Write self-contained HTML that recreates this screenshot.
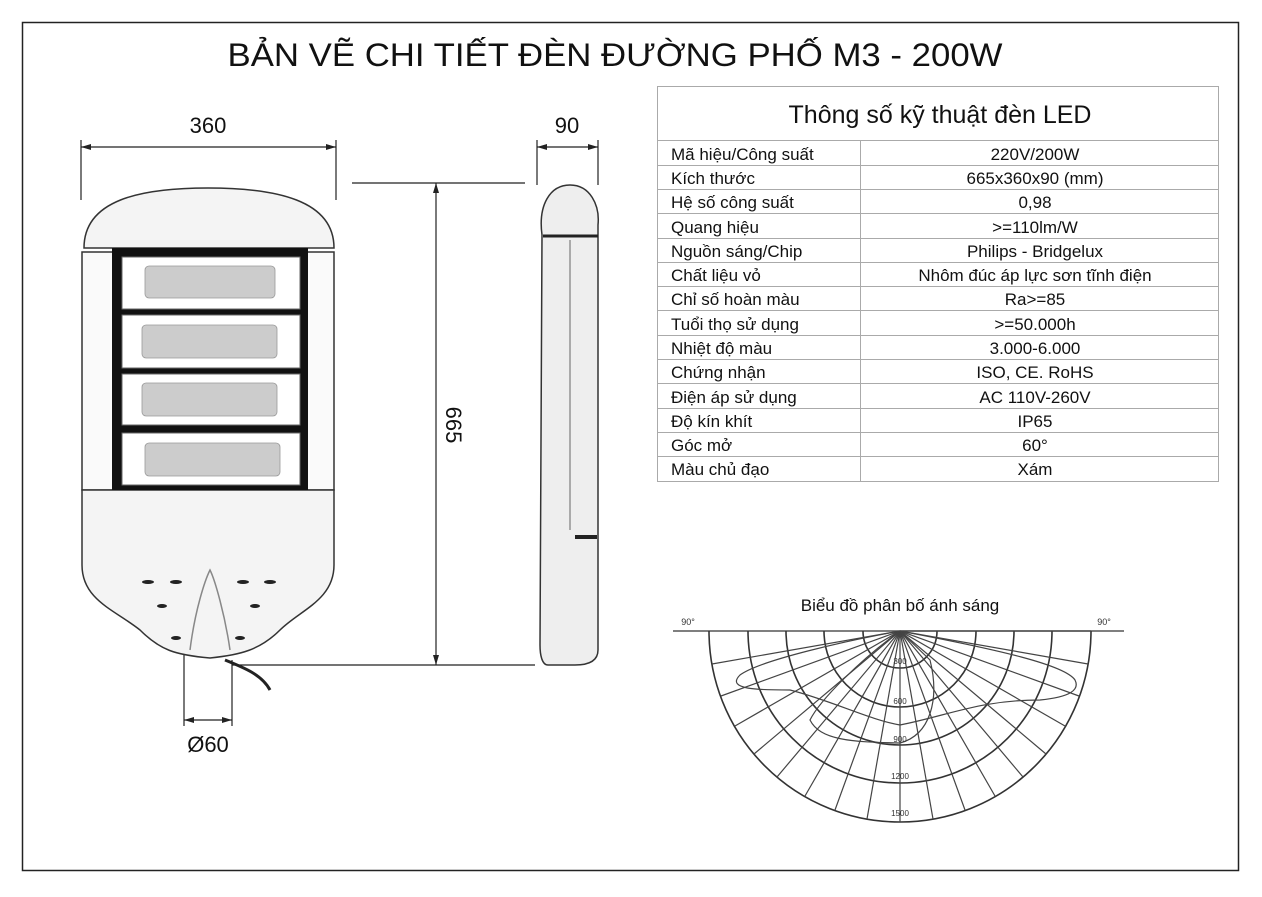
<!DOCTYPE html>
<html><head><meta charset="utf-8"><style>
body{margin:0;background:#fff;}
svg text{font-family:"Liberation Sans",sans-serif;}
</style></head><body>
<svg width="1262" height="892" viewBox="0 0 1262 892" xmlns="http://www.w3.org/2000/svg">
<rect x="0" y="0" width="1262" height="892" fill="#fff"/>
<rect x="22.5" y="22.5" width="1216" height="848" fill="none" stroke="#222" stroke-width="1.5"/>
<text x="615" y="66" font-size="32" text-anchor="middle" fill="#111" textLength="775" lengthAdjust="spacingAndGlyphs">BẢN VẼ CHI TIẾT ĐÈN ĐƯỜNG PHỐ M3 - 200W</text>

<!-- dimensions front -->
<g stroke="#222" stroke-width="1.2" fill="none">
<line x1="81" y1="140" x2="81" y2="200"/><line x1="336" y1="140" x2="336" y2="200"/>
<line x1="81" y1="147" x2="336" y2="147"/>
<line x1="537" y1="140" x2="537" y2="185"/><line x1="598" y1="140" x2="598" y2="185"/>
<line x1="537" y1="147" x2="598" y2="147"/>
<line x1="352" y1="183" x2="525" y2="183"/>
<line x1="232" y1="665" x2="535" y2="665"/>
<line x1="436" y1="183" x2="436" y2="665"/>
<line x1="184" y1="650" x2="184" y2="726"/><line x1="232" y1="660" x2="232" y2="726"/>
<line x1="184" y1="720" x2="232" y2="720"/>
</g>
<g fill="#222">
<polygon points="81,147 91,144 91,150"/><polygon points="336,147 326,144 326,150"/>
<polygon points="537,147 547,144 547,150"/><polygon points="598,147 588,144 588,150"/>
<polygon points="436,183 433,193 439,193"/><polygon points="436,665 433,655 439,655"/>
<polygon points="184,720 194,717 194,723"/><polygon points="232,720 222,717 222,723"/>
</g>
<text x="208" y="133" font-size="22" text-anchor="middle" fill="#111">360</text>
<text x="567" y="133" font-size="22" text-anchor="middle" fill="#111">90</text>
<text x="208" y="752" font-size="22" text-anchor="middle" fill="#111">Ø60</text>
<text x="0" y="0" font-size="22" text-anchor="middle" fill="#111" transform="translate(446,425) rotate(90)">665</text>

<!-- lamp front -->
<g stroke="#333" stroke-width="1.5" fill="#f4f4f4">
<path d="M84,248 C84,200 140,188 208,188 C276,188 334,200 334,248 Z"/>
<path d="M82,252 L334,252 L334,490 L82,490 Z" fill="#fafafa"/>
<path d="M82,490 L334,490 L334,565 C334,600 300,610 280,630 C260,650 240,655 210,658 C175,655 160,650 140,630 C115,610 82,600 82,565 Z"/>
</g>
<rect x="112" y="248" width="196" height="242" fill="#111"/>
<g fill="#fff" stroke="#666" stroke-width="1">
<rect x="122" y="257" width="178" height="52"/>
<rect x="122" y="315" width="178" height="53"/>
<rect x="122" y="374" width="178" height="51"/>
<rect x="122" y="433" width="178" height="52"/>
</g>
<g fill="#ccc" stroke="#999" stroke-width="0.8">
<rect x="145" y="266" width="130" height="32" rx="4"/>
<rect x="142" y="325" width="135" height="33" rx="4"/>
<rect x="142" y="383" width="135" height="33" rx="4"/>
<rect x="145" y="443" width="135" height="33" rx="4"/>
</g>
<g fill="#222">
<ellipse cx="148" cy="582" rx="6" ry="2"/><ellipse cx="176" cy="582" rx="6" ry="2"/>
<ellipse cx="243" cy="582" rx="6" ry="2"/><ellipse cx="270" cy="582" rx="6" ry="2"/>
<ellipse cx="162" cy="606" rx="5" ry="2"/><ellipse cx="255" cy="606" rx="5" ry="2"/>
<ellipse cx="176" cy="638" rx="5" ry="2"/><ellipse cx="240" cy="638" rx="5" ry="2"/>
</g>
<path d="M190,650 C195,610 205,580 210,570 C215,580 225,615 230,650" fill="none" stroke="#888" stroke-width="1.5"/>
<path d="M225,660 C245,668 262,675 270,690" fill="none" stroke="#222" stroke-width="3"/>

<!-- side view -->
<g stroke="#333" stroke-width="1.5" fill="#eee">
<path d="M542,235 C538,205 550,185 570,185 C590,185 600,205 598,225 L598,650 C598,660 590,665 575,665 L548,665 C542,665 540,655 540,645 Z"/>
</g>
<line x1="543" y1="236" x2="598" y2="236" stroke="#222" stroke-width="3"/>
<line x1="570" y1="240" x2="570" y2="530" stroke="#666" stroke-width="1"/>
<rect x="575" y="535" width="22" height="4" fill="#222"/>

<!-- table -->
<g stroke="#aaa" stroke-width="1" fill="none">
<rect x="657.5" y="86.5" width="561" height="395"/>
<line x1="657" y1="140.5" x2="1219" y2="140.5"/>
<line x1="860.5" y1="141" x2="860.5" y2="481"/>
<line x1="657" y1="165.5" x2="1219" y2="165.5"/>
<line x1="657" y1="189.5" x2="1219" y2="189.5"/>
<line x1="657" y1="213.5" x2="1219" y2="213.5"/>
<line x1="657" y1="238.5" x2="1219" y2="238.5"/>
<line x1="657" y1="262.5" x2="1219" y2="262.5"/>
<line x1="657" y1="286.5" x2="1219" y2="286.5"/>
<line x1="657" y1="310.5" x2="1219" y2="310.5"/>
<line x1="657" y1="335.5" x2="1219" y2="335.5"/>
<line x1="657" y1="359.5" x2="1219" y2="359.5"/>
<line x1="657" y1="383.5" x2="1219" y2="383.5"/>
<line x1="657" y1="408.5" x2="1219" y2="408.5"/>
<line x1="657" y1="432.5" x2="1219" y2="432.5"/>
<line x1="657" y1="456.5" x2="1219" y2="456.5"/>
</g>
<text x="940" y="123" font-size="25" text-anchor="middle" fill="#111">Thông số kỹ thuật đèn LED</text>
<g font-size="17" fill="#111">
<text x="671" y="160">Mã hiệu/Công suất</text>
<text x="671" y="184">Kích thước</text>
<text x="671" y="208">Hệ số công suất</text>
<text x="671" y="233">Quang hiệu</text>
<text x="671" y="257">Nguồn sáng/Chip</text>
<text x="671" y="281">Chất liệu vỏ</text>
<text x="671" y="305">Chỉ số hoàn màu</text>
<text x="671" y="330">Tuổi thọ sử dụng</text>
<text x="671" y="354">Nhiệt độ màu</text>
<text x="671" y="378">Chứng nhận</text>
<text x="671" y="403">Điện áp sử dụng</text>
<text x="671" y="427">Độ kín khít</text>
<text x="671" y="451">Góc mở</text>
<text x="671" y="475">Màu chủ đạo</text>
</g>
<g font-size="17" fill="#111" text-anchor="middle">
<text x="1035" y="160">220V/200W</text>
<text x="1035" y="184">665x360x90 (mm)</text>
<text x="1035" y="208">0,98</text>
<text x="1035" y="233">&gt;=110lm/W</text>
<text x="1035" y="257">Philips - Bridgelux</text>
<text x="1035" y="281">Nhôm đúc áp lực sơn tĩnh điện</text>
<text x="1035" y="305">Ra&gt;=85</text>
<text x="1035" y="330">&gt;=50.000h</text>
<text x="1035" y="354">3.000-6.000</text>
<text x="1035" y="378">ISO, CE. RoHS</text>
<text x="1035" y="403">AC 110V-260V</text>
<text x="1035" y="427">IP65</text>
<text x="1035" y="451">60°</text>
<text x="1035" y="475">Xám</text>
</g>

<!-- polar -->
<text x="900" y="611" font-size="17" text-anchor="middle" fill="#111">Biểu đồ phân bố ánh sáng</text>
<text x="688" y="625" font-size="9" text-anchor="middle" fill="#333">90°</text>
<text x="1104" y="625" font-size="9" text-anchor="middle" fill="#333">90°</text>
<line x1="673" y1="631" x2="1124" y2="631" stroke="#555" stroke-width="1.5"/>
<g fill="none" stroke="#333" stroke-width="1.6">
<path d="M709,631 A191,191 0 0 0 1091,631"/>
<path d="M748,631 A152,152 0 0 0 1052,631"/>
<path d="M786,631 A114,114 0 0 0 1014,631"/>
<path d="M824,631 A76,76 0 0 0 976,631"/>
<path d="M863,631 A37,37 0 0 0 937,631"/>
</g>
<g stroke="#444" stroke-width="1.2" id="spokes">
<line x1="900" y1="631" x2="1091" y2="631"/>
<line x1="900" y1="631" x2="1088" y2="664"/>
<line x1="900" y1="631" x2="1079" y2="696"/>
<line x1="900" y1="631" x2="1065" y2="726"/>
<line x1="900" y1="631" x2="1046" y2="754"/>
<line x1="900" y1="631" x2="1023" y2="777"/>
<line x1="900" y1="631" x2="995" y2="796"/>
<line x1="900" y1="631" x2="965" y2="810"/>
<line x1="900" y1="631" x2="933" y2="819"/>
<line x1="900" y1="631" x2="900" y2="822"/>
<line x1="900" y1="631" x2="867" y2="819"/>
<line x1="900" y1="631" x2="835" y2="810"/>
<line x1="900" y1="631" x2="805" y2="796"/>
<line x1="900" y1="631" x2="777" y2="777"/>
<line x1="900" y1="631" x2="754" y2="754"/>
<line x1="900" y1="631" x2="735" y2="726"/>
<line x1="900" y1="631" x2="721" y2="696"/>
<line x1="900" y1="631" x2="712" y2="664"/>
</g>
<g fill="none" stroke="#444" stroke-width="1.2">
<path d="M900,631 C850,640 760,660 740,675 C725,690 760,690 790,690 C830,700 870,720 900,725 C950,715 980,700 1040,700 C1070,697 1080,690 1075,680 C1065,665 1000,650 900,631"/>
<path d="M900,631 C860,660 820,700 810,720 C820,740 850,742 900,743 C930,735 940,700 930,660 Z"/>
</g>
<g font-size="8" fill="#333" text-anchor="middle">
<text x="900" y="664">300</text><text x="900" y="704">600</text><text x="900" y="742">900</text><text x="900" y="779">1200</text><text x="900" y="816">1500</text>
</g>
</svg>
</body></html>
